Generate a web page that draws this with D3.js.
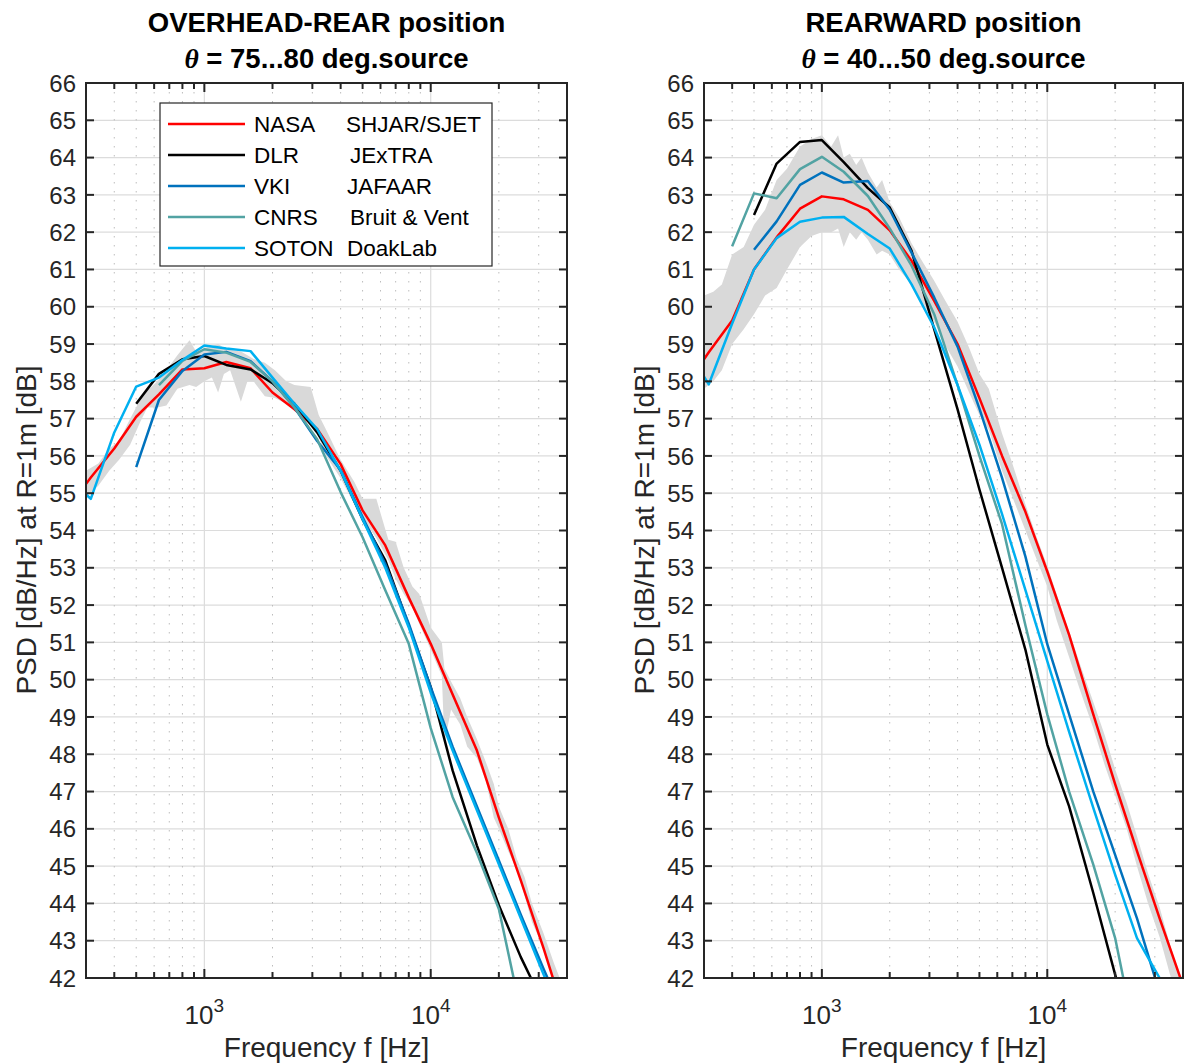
<!DOCTYPE html>
<html>
<head>
<meta charset="utf-8">
<script src="https://cdn.jsdelivr.net/npm/d3@7"></script>
<style>
  body { margin: 0; background: #fff; }
  svg { font-family: "Liberation Sans", Arial, sans-serif; }
</style>
</head>
<body>
<div class="root"></div>
<script>
// 1/3-octave centre frequencies used by all the spectra
var freqs = [250, 315, 400, 500, 630, 800, 1000, 1250, 1600, 2000, 2500, 3150, 4000, 5000, 6300, 8000, 10000, 12500, 16000, 20000, 25000, 31500, 40000];

var seriesNames = ["NASA", "DLR", "VKI", "CNRS", "SOTON"];
var facilityNames = ["SHJAR/SJET", "JExTRA", "JAFAAR", "Bruit & Vent", "DoakLab"];
var seriesColors = ["#ff0000", "#000000", "#0072bd", "#52a3a3", "#00b0f0"];

// OVERHEAD-REAR panel
var nasaLeft  = [54.6, 55.42, 56.2, 57.05, 57.65, 58.32, 58.35, 58.52, 58.35, 57.7, 57.25, 56.72, 55.78, 54.54, 53.6, 52.2, 50.96, 49.6, 48.1, 46.3, 44.62, 42.8, 40.8];
var dlrLeft   = [null, null, null, 57.4, 58.2, 58.59, 58.68, 58.44, 58.32, 57.95, 57.4, 56.63, 55.6, 54.3, 53.2, 51.45, 49.8, 47.56, 45.55, 43.95, 42.56, 41.3, null];
var vkiLeft   = [null, null, null, 55.7, 57.5, 58.28, 58.72, 58.79, 58.54, 58.0, 57.3, 56.4, 55.62, 54.36, 53.1, 51.5, 49.8, 48.2, 46.6, 45.15, 43.7, 42.25, 40.8];
var cnrsLeft  = [null, null, null, null, 57.9, 58.55, 58.86, 58.77, 58.52, 58.0, 57.3, 56.45, 55.03, 53.82, 52.4, 50.96, 48.7, 46.85, 45.35, 43.85, 41.1, null, null];
var sotonLeft = [55.4, 54.85, 56.63, 57.86, 58.1, 58.57, 58.96, 58.88, 58.81, 58.1, 57.4, 56.72, 55.6, 54.3, 53.0, 51.4, 49.65, 48.1, 46.5, 45.05, 43.6, 42.1, 40.7];

// REARWARD panel
var nasaRight  = [57.9, 58.78, 59.63, 61.0, 61.86, 62.63, 62.96, 62.88, 62.6, 62.05, 61.23, 60.16, 59.0, 57.55, 56.0, 54.5, 52.9, 51.2, 49.07, 47.2, 45.4, 43.6, 41.8];
var dlrRight   = [null, null, null, 62.46, 63.84, 64.42, 64.47, 63.88, 63.18, 62.66, 61.5, 59.4, 57.25, 55.1, 53.0, 50.8, 48.26, 46.6, 44.28, 42.09, 40.0, null, null];
var vkiRight   = [null, null, null, 61.53, 62.29, 63.27, 63.6, 63.33, 63.37, 62.6, 61.45, 60.25, 58.93, 57.27, 55.41, 53.3, 50.95, 49.07, 47.0, 45.3, 43.6, 41.6, 39.9];
var cnrsRight  = [null, null, 61.62, 63.04, 62.91, 63.69, 64.02, 63.62, 62.97, 62.1, 61.1, 59.8, 57.9, 56.0, 54.17, 51.45, 49.07, 47.0, 45.04, 43.07, 40.2, null, null];
var sotonRight = [58.9, 57.92, 59.55, 61.0, 61.84, 62.28, 62.39, 62.41, 61.95, 61.56, 60.6, 59.45, 57.9, 56.3, 54.44, 52.4, 50.5, 48.6, 46.56, 44.77, 43.07, 42.0, 40.3];

// grey spread of the measurements
var bandFreqLeft = [300, 340, 380, 420, 470, 520, 560, 620, 680, 760, 860, 920, 1000, 1080, 1150, 1220, 1300, 1450, 1550, 1650, 1850, 2050, 2300, 2500, 2650, 2950, 3200, 3450, 4000, 4600, 5000, 5750, 6500, 7000, 7600, 8300, 8900, 10000, 11200, 11500, 12300, 13500, 14500, 16000, 17500, 19000, 20000, 22000, 24000, 26000, 28000, 31500, 35000, 40000];
var bandLoLeft   = [54.9, 55.2, 55.6, 55.9, 56.3, 56.9, 57.3, 57.3, 57.35, 57.8, 57.9, 57.85, 58.0, 58.1, 57.7, 58.2, 58.3, 57.45, 58.0, 58.0, 57.6, 57.55, 57.4, 57.3, 57.0, 56.9, 56.5, 56.0, 55.4, 54.7, 54.3, 53.8, 53.2, 52.7, 52.3, 51.95, 51.5, 50.8, 50.1, 48.3, 49.2, 48.8, 48.2, 47.9, 47.3, 46.3, 46.0, 45.4, 44.9, 44.2, 43.5, 42.8, 41.8, 41.0];
var bandHiLeft   = [55.6, 55.8, 56.2, 56.4, 57.0, 57.5, 57.75, 58.0, 58.3, 58.7, 59.1, 58.8, 58.9, 58.95, 59.0, 58.9, 58.85, 58.8, 58.7, 58.6, 58.5, 58.3, 58.0, 57.9, 57.88, 57.85, 57.1, 56.7, 55.9, 55.3, 54.85, 54.85, 53.75, 53.7, 53.0, 52.5, 52.3, 51.4, 51.0, 50.3, 49.95, 49.5, 49.0, 48.4, 47.8, 47.2, 46.6, 46.0, 45.2, 44.7, 44.0, 43.2, 42.4, 41.5];

var bandFreqRight = [300, 330, 360, 400, 450, 500, 560, 630, 700, 800, 900, 1000, 1100, 1180, 1250, 1330, 1420, 1500, 1600, 1750, 1850, 2000, 2200, 2500, 2800, 3150, 3500, 4000, 4500, 5000, 5500, 6300, 7000, 8000, 9000, 10000, 11000, 12500, 14000, 16000, 18000, 20000, 22500, 25000, 28000, 31500, 35000, 40000];
var bandLoRight   = [57.8, 58.0, 58.3, 59.0, 59.4, 59.8, 60.3, 60.5, 61.0, 61.6, 61.9, 62.0, 62.0, 62.1, 61.6, 62.0, 61.8, 62.0, 61.8, 61.4, 61.5, 61.4, 61.0, 60.6, 60.1, 59.6, 59.0, 58.4, 57.7, 57.1, 56.7, 55.6, 54.9, 54.0, 53.2, 52.5, 51.6, 50.6, 49.7, 48.7, 47.7, 46.9, 46.0, 45.0, 44.0, 43.1, 42.1, 41.0];
var bandHiRight   = [60.3, 60.4, 60.6, 61.4, 61.6, 62.2, 62.6, 63.4, 63.7, 64.3, 64.5, 64.6, 64.3, 64.6, 64.0, 64.1, 63.8, 64.0, 63.6, 63.2, 63.4, 62.8, 62.4, 61.7, 61.2, 60.7, 60.2, 59.6, 58.9, 58.2, 57.8, 56.6, 55.8, 54.7, 53.8, 53.05, 52.3, 51.3, 50.4, 49.4, 48.5, 47.6, 46.7, 45.8, 44.8, 43.9, 42.9, 41.8];

var yTicks = d3.range(42, 67, 1);
var xMajorTicks = [1000, 10000];
var xMinorTicks = [400, 500, 600, 700, 800, 900, 2000, 3000, 4000, 5000, 6000, 7000, 8000, 9000, 20000, 30000, 40000];

var svg = d3.select('.root').append('svg')
    .attr('width', 1184)
    .attr('height', 1064);

function drawPanel(cfg)
{
    var x = d3.scaleLog().domain([300, 40000]).range([cfg.left, cfg.right]);
    var y = d3.scaleLinear().domain([42, 66]).range([978, 83]);
    var w = cfg.right - cfg.left;

    var g = svg.append('g');

    svg.append('clipPath').attr('id', cfg.id)
        .append('rect')
        .attr('x', cfg.left).attr('y', 83)
        .attr('width', w).attr('height', 895);

    // grid
    g.append('g').selectAll('line').data(yTicks).enter().append('line')
        .attr('x1', cfg.left).attr('x2', cfg.right)
        .attr('y1', d => y(d)).attr('y2', d => y(d))
        .attr('stroke', '#dcdcdc').attr('stroke-width', 1.2);
    g.append('g').selectAll('line').data(xMinorTicks).enter().append('line')
        .attr('x1', d => x(d)).attr('x2', d => x(d))
        .attr('y1', 83).attr('y2', 978)
        .attr('stroke', '#bdbdbd').attr('stroke-width', 1)
        .attr('stroke-dasharray', '1.5,7.5');
    g.append('g').selectAll('line').data(xMajorTicks).enter().append('line')
        .attr('x1', d => x(d)).attr('x2', d => x(d))
        .attr('y1', 83).attr('y2', 978)
        .attr('stroke', '#dcdcdc').attr('stroke-width', 1.2);

    var plot = g.append('g').attr('clip-path', 'url(#' + cfg.id + ')');

    // spread band
    var band = cfg.bandFreq.map((f, i) => ({ f: f, lo: cfg.bandLo[i], hi: cfg.bandHi[i] }));
    plot.append('path')
        .datum(band)
        .attr('fill', '#d9d9d9')
        .attr('d', d3.area().x(d => x(d.f)).y0(d => y(d.lo)).y1(d => y(d.hi)));

    var line = d3.line()
        .defined(d => d[1] != null)
        .x(d => x(d[0]))
        .y(d => y(d[1]));

    cfg.series.forEach(function(vals, i)
    {
        plot.append('path')
            .datum(freqs.map((f, j) => [f, vals[j]]))
            .attr('fill', 'none')
            .attr('stroke', seriesColors[i])
            .attr('stroke-width', 2.5)
            .attr('stroke-linejoin', 'round')
            .attr('d', line);
    });

    // axes box and ticks
    var axisCol = '#262626';
    g.append('rect')
        .attr('x', cfg.left).attr('y', 83)
        .attr('width', w).attr('height', 895)
        .attr('fill', 'none').attr('stroke', axisCol).attr('stroke-width', 2);

    var ticks = g.append('g').attr('stroke', axisCol).attr('stroke-width', 2);
    yTicks.forEach(function(t)
    {
        ticks.append('line').attr('x1', cfg.left).attr('x2', cfg.left + 8)
            .attr('y1', y(t)).attr('y2', y(t));
        ticks.append('line').attr('x1', cfg.right).attr('x2', cfg.right - 8)
            .attr('y1', y(t)).attr('y2', y(t));
    });
    xMinorTicks.forEach(function(t)
    {
        ticks.append('line').attr('x1', x(t)).attr('x2', x(t)).attr('y1', 978).attr('y2', 972);
        ticks.append('line').attr('x1', x(t)).attr('x2', x(t)).attr('y1', 83).attr('y2', 89);
    });
    xMajorTicks.forEach(function(t)
    {
        ticks.append('line').attr('x1', x(t)).attr('x2', x(t)).attr('y1', 978).attr('y2', 969);
        ticks.append('line').attr('x1', x(t)).attr('x2', x(t)).attr('y1', 83).attr('y2', 92);
    });

    // tick labels
    g.append('g').selectAll('text').data(yTicks).enter().append('text')
        .attr('x', cfg.left - 10).attr('y', d => y(d))
        .attr('dy', '0.36em')
        .attr('text-anchor', 'end')
        .attr('font-size', 24).attr('fill', axisCol)
        .text(d => d);

    xMajorTicks.forEach(function(t)
    {
        var tx = g.append('text')
            .attr('x', x(t)).attr('y', 1024)
            .attr('text-anchor', 'middle')
            .attr('font-size', 26).attr('fill', axisCol);
        tx.append('tspan').text('10');
        tx.append('tspan').attr('dy', -12).attr('font-size', 19).text(Math.round(Math.log10(t)));
    });

    // axis labels
    g.append('text')
        .attr('x', (cfg.left + cfg.right) / 2).attr('y', 1057)
        .attr('text-anchor', 'middle')
        .attr('font-size', 28).attr('fill', axisCol)
        .text('Frequency f [Hz]');
    g.append('text')
        .attr('transform', 'translate(' + (cfg.left - 50) + ',530) rotate(-90)')
        .attr('text-anchor', 'middle')
        .attr('font-size', 28).attr('fill', axisCol)
        .text('PSD [dB/Hz] at R=1m [dB]');

    // title
    var cx = (cfg.left + cfg.right) / 2;
    g.append('text')
        .attr('x', cx).attr('y', 32)
        .attr('text-anchor', 'middle')
        .attr('font-size', 27.5).attr('font-weight', 'bold')
        .text(cfg.title);
    var t2 = g.append('text')
        .attr('x', cx).attr('y', 68)
        .attr('text-anchor', 'middle')
        .attr('font-size', 27.5).attr('font-weight', 'bold');
    t2.append('tspan')
        .attr('font-family', '"Liberation Serif", "Times New Roman", serif')
        .attr('font-style', 'italic')
        .text('\u03b8');
    t2.append('tspan').text(' = ' + cfg.angle + ' deg.source');
}

drawPanel({
    id: 'clipL', left: 86, right: 567,
    title: 'OVERHEAD-REAR position', angle: '75...80',
    series: [nasaLeft, dlrLeft, vkiLeft, cnrsLeft, sotonLeft],
    bandFreq: bandFreqLeft, bandLo: bandLoLeft, bandHi: bandHiLeft
});

drawPanel({
    id: 'clipR', left: 704, right: 1183,
    title: 'REARWARD position', angle: '40...50',
    series: [nasaRight, dlrRight, vkiRight, cnrsRight, sotonRight],
    bandFreq: bandFreqRight, bandLo: bandLoRight, bandHi: bandHiRight
});

// legend (left panel)
var legend = svg.append('g');
legend.append('rect')
    .attr('x', 160).attr('y', 103)
    .attr('width', 332).attr('height', 163)
    .attr('fill', '#fff').attr('stroke', '#262626').attr('stroke-width', 1.2);
var facX = [346, 350, 347, 350, 347];
seriesNames.forEach(function(name, i)
{
    var ly = 124 + i * 31;
    legend.append('line')
        .attr('x1', 168).attr('x2', 245)
        .attr('y1', ly).attr('y2', ly)
        .attr('stroke', seriesColors[i]).attr('stroke-width', 2.5);
    legend.append('text')
        .attr('x', 254).attr('y', ly).attr('dy', '0.36em')
        .attr('font-size', 22.5).text(name);
    legend.append('text')
        .attr('x', facX[i]).attr('y', ly).attr('dy', '0.36em')
        .attr('font-size', 22.5).text(facilityNames[i]);
});
</script>
</body>
</html>
